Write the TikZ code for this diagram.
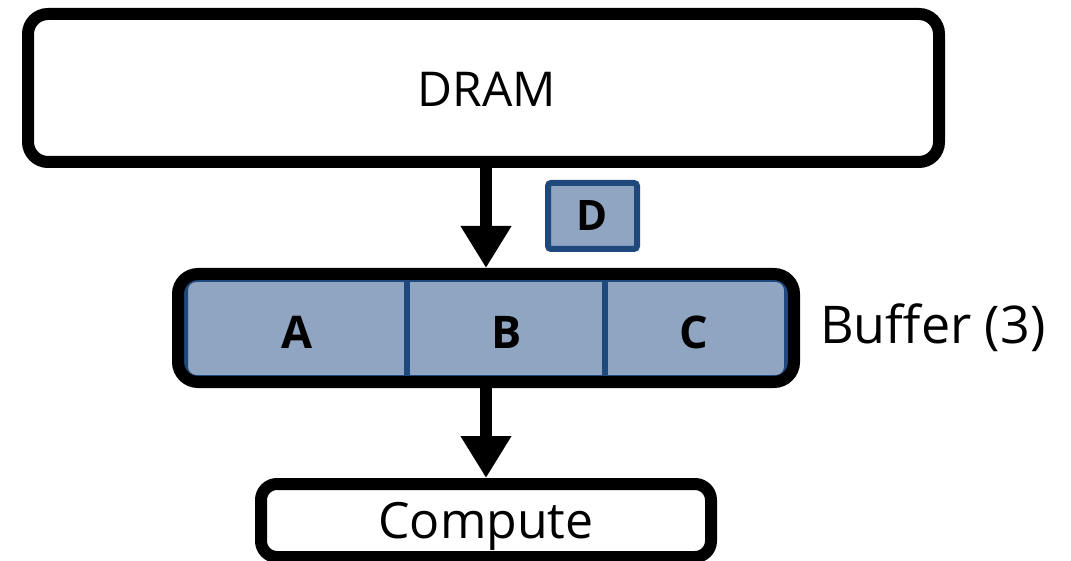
\documentclass[tikz,border=0pt]{standalone}
\usepackage{fontspec}
\setmainfont{Open Sans}
\usetikzlibrary{arrows.meta}
\definecolor{cellfill}{HTML}{8FA5C1}
\definecolor{cellline}{HTML}{1F497D}
\begin{document}
\begin{tikzpicture}[x=1pt,y=-1pt,
  box/.style={draw=black, line width=12pt, rounded corners=20pt, inner sep=0pt},
  lbl/.style={inner sep=0pt, font=\bfseries\fontsize{45}{50}\selectfont},
  txt/.style={inner sep=0pt, anchor=base, font=\fontsize{#1}{#1}\selectfont},
  flow/.style={line width=12pt, -{Triangle[width=48pt,length=42pt]}}]
\useasboundingbox (0,0) rectangle (1071,561);
% DRAM
\node[box, fill=white, minimum width=911pt, minimum height=148pt] (dram) at (483.5,88) {};
\node[txt=48] (dramlbl) at (487,107) {DRAM};
% buffer cells background
\draw[fill=cellfill, draw=cellline, line width=4pt, rounded corners=10pt]
  (186,280) rectangle (786,377);
\coordinate (d1t) at (407,280); \coordinate (d1b) at (407,377);
\coordinate (d2t) at (605,280); \coordinate (d2b) at (605,377);
\draw[cellline, line width=6pt] (d1t) -- (d1b);
\draw[cellline, line width=6pt] (d2t) -- (d2b);
\node[lbl] (A) at (297,332) {A};
\node[lbl] (B) at (507,332) {B};
\node[lbl] (C) at (694,332) {C};
\node[box, minimum width=616pt, minimum height=108pt] (buf) at (486,328) {};
\node[txt=52, anchor=base west] (buflbl) at (820,343) {Buffer (3)};
% D
\node[draw=cellline, fill=cellfill, line width=6pt, rounded corners=3pt,
      minimum width=89pt, minimum height=66pt, inner sep=0pt,
      font=\bfseries\fontsize{42}{46}\selectfont] (D) at (592.5,216) {D};
% Compute
\node[box, fill=white, rounded corners=16pt, minimum width=450pt, minimum height=73pt] (comp) at (486,520.5) {};
\node[txt=50] (complbl) at (486,538) {Compute};
% arrows
\draw[flow] (dram.south -| buf.north) -- (buf.north);
\draw[flow] (buf.south) -- (comp.north);
\end{tikzpicture}
\end{document}
